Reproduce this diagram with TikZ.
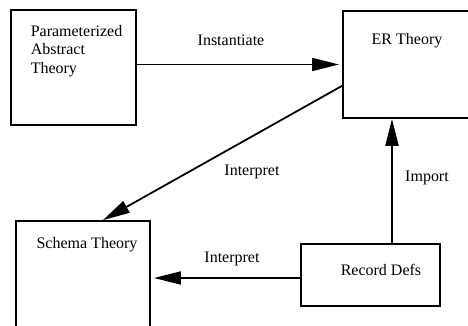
\documentclass[tikz,border=0pt]{standalone}
\usepackage{fontspec}
\setmainfont{Liberation Serif}
\usetikzlibrary{arrows.meta}

\tikzset{
	box/.style={draw, line width=0.9pt, inner sep=0pt},
	txt/.style={inner sep=0pt, font=\rmfamily\fontsize{8}{9.25}\selectfont},
	arr/.style={line width=0.9pt, -{Triangle[length=13.5pt, width=6.5pt]}},
}

\begin{document}
\begin{tikzpicture}[x=0.5pt, y=-0.5pt]
	\useasboundingbox (0,0) rectangle (468,326);
	\clip (0,0) rectangle (468,326);

	% theory boxes
	\node[box, minimum width=62.5pt, minimum height=57.5pt] (pat) at (73.5,67.5) {};
	\node[box, minimum width=73.5pt, minimum height=53.5pt] (er) at (416.5,64.5) {};
	\node[box, minimum width=67pt, minimum height=64.5pt] (sch) at (83,285.5) {};
	\node[box, minimum width=69.5pt, minimum height=31pt] (rd) at (370.5,275) {};

	% box titles
	\node[txt, align=left] (pat-t) at (76.5,51) {Parameterized\\Abstract\\Theory};
	\node[txt] (er-t) at (407,41) {ER Theory};
	\node[txt] (sch-t) at (87,245) {Schema Theory};
	\node[txt] (rd-t) at (381,270) {Record Defs};

	% morphisms
	\coordinate (rd-out) at ([yshift=-1.5pt]rd.west);
	\draw[arr, shorten >=1.5pt] (pat.east |- er.west) -- (er.west);
	\draw[arr] (er.196) -- (sch.73);
	\draw[arr] ([xshift=10.75pt]rd.north) -- ([xshift=10.75pt]rd.north |- er.south);
	\draw[arr, shorten >=1.5pt] (rd-out) -- (rd-out -| sch.east);

	% morphism labels
	\foreach \x/\y/\t [count=\n] in {231/40/Instantiate, 252/172/Interpret, 232/259/Interpret, 427/178/Import} {
		\node[txt] (lbl\n) at (\x,\y) {\t};
	}
\end{tikzpicture}
\end{document}
